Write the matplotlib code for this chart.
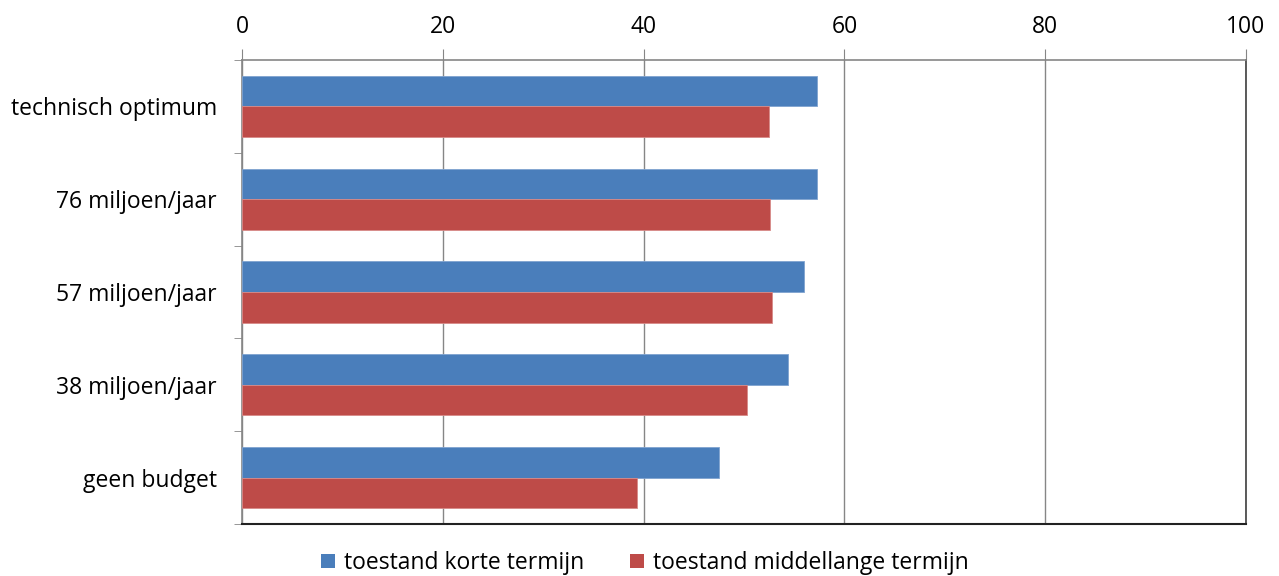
import matplotlib
matplotlib.use("Agg")
import matplotlib.pyplot as plt
import numpy as np
from matplotlib.patches import Patch

categories = ["technisch optimum", "76 miljoen/jaar", "57 miljoen/jaar", "38 miljoen/jaar", "geen budget"]
korte = [57.3, 57.3, 56.0, 54.4, 47.5]
middel = [52.5, 52.6, 52.8, 50.3, 39.3]
series_names = ["toestand korte termijn", "toestand middellange termijn"]
xticks = [0, 20, 40, 60, 80, 100]

plt.rcParams['font.family'] = ['Open Sans', 'DejaVu Sans']

blue = "#4A7EBB"
red = "#BE4B48"
grey = "#868686"
fs = 16.5

fig = plt.figure(figsize=(12.79, 5.76), dpi=100)
ax = fig.add_axes([242/1279, 1-524/576, (1246-242)/1279, (524-60)/576])

n = len(categories)
y = np.arange(n)
h = 0.33
ax.barh(y - h/2, korte, height=h, color=blue, edgecolor="#7fa3d0", linewidth=0.6, zorder=3)
ax.barh(y + h/2, middel, height=h, color=red, edgecolor="#d88a88", linewidth=0.6, zorder=3)

ax.set_xlim(0, 100)
ax.set_ylim(n - 0.5, -0.5)
ax.set_xticks(xticks)
ax.xaxis.tick_top()
ax.tick_params(axis='x', which='major', direction='out', length=8, color=grey, labelsize=fs, pad=7)
ax.set_yticks(y)
ax.set_yticklabels(categories)
ax.tick_params(axis='y', which='major', length=0, labelsize=fs, pad=18)
ax.set_yticks(np.arange(n + 1) - 0.5, minor=True)
ax.tick_params(axis='y', which='minor', direction='out', length=6, color=grey)

ax.grid(axis='x', color=grey, linewidth=1.0, zorder=0)
for s in ['top', 'left']:
    ax.spines[s].set_color(grey)
    ax.spines[s].set_linewidth(1.2)
ax.spines['right'].set_color("#404040")
ax.spines['right'].set_linewidth(1.2)
ax.spines['bottom'].set_color("#222222")
ax.spines['bottom'].set_linewidth(1.5)

handles = [Patch(facecolor=blue), Patch(facecolor=red)]
fig.legend(handles, series_names, loc='center', bbox_to_anchor=(645/1279, 1-563/576),
           ncol=2, frameon=False, fontsize=fs, handlelength=0.6, handleheight=0.6,
           handletextpad=0.4, columnspacing=2.0)

fig.savefig("out.png", dpi=100)
